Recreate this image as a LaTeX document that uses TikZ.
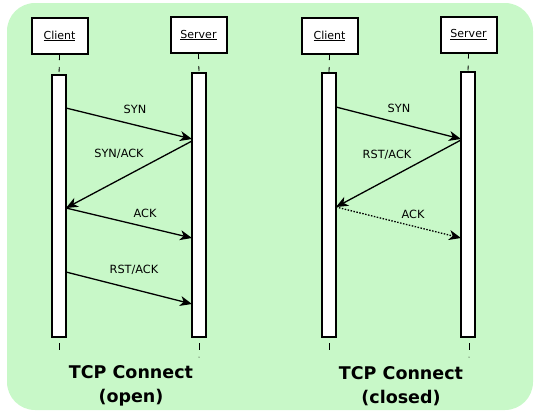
\documentclass[tikz,border=0pt]{standalone}
\usepackage{fontspec}
\setmainfont{DejaVu Sans}
\usetikzlibrary{arrows.meta}
\definecolor{bggreen}{RGB}{200,248,200}
\tikzset{
  actor/.style={draw=black, line width=2pt, fill=white, minimum width=56pt, minimum height=36pt, inner sep=0pt, font=\fontsize{11}{12}\selectfont},
  bar/.style={draw=black, line width=1.5pt, fill=white},
  msg/.style={line width=1.3pt, -{Stealth[length=12pt,width=10pt,inset=3.5pt]}},
  lbl/.style={font=\fontsize{11.3}{12}\selectfont},
  life/.style={line width=0.8pt, dash pattern=on 5pt off 7pt},
  title/.style={font=\fontsize{17.5}{24}\selectfont\bfseries, align=center}
}
\begin{document}
\begin{tikzpicture}[x=1pt,y=-1pt]
\useasboundingbox (0,0) rectangle (538,416);
\fill[bggreen, rounded corners=28pt] (7,3) rectangle (533,410);
% --- open
\node[actor] (c1) at (59.5,36) {\underline{Client}};
\node[actor] (s1) at (198.5,35) {\underline{Server}};
\draw[bar] (52,75) rectangle (66,337);
\draw[bar] (192,73) rectangle (206,337);
\coordinate (c1t) at (59,75); \coordinate (s1t) at (199,73);
\draw[life] (c1.south) -- (c1t);
\draw[life] (s1.south) -- (s1t);
\draw[line width=0.8pt] (59,343) -- (59,350);
\draw[line width=0.8pt] (199,343) -- (199,350);
\fill (199,357) circle (0.5pt);
\coordinate (a1) at (66,108); \coordinate (b1) at (192,139);
\coordinate (b2) at (192,141); \coordinate (a2) at (66,208);
\coordinate (a3) at (66,208); \coordinate (b3) at (192,238);
\coordinate (a4) at (66,272); \coordinate (b4) at (192,304);
\draw[msg] (a1) -- (b1);
\draw[msg] (b2) -- (a2);
\draw[msg] (a3) -- (b3);
\draw[msg] (a4) -- (b4);
\node[lbl] (l1) at (135,109) {SYN};
\node[lbl] (l2) at (119,154) {SYN/ACK};
\node[lbl] (l3) at (145,213) {ACK};
\node[lbl] (l4) at (134,270) {RST/ACK};
\node[title] (t1) at (131,386) {TCP Connect\\(open)};
% --- closed
\node[actor] (c2) at (329.5,36) {\underline{Client}};
\node[actor] (s2) at (468.5,34.5) {\underline{Server}};
\draw[bar] (322,73) rectangle (336,337);
\draw[bar] (461,72) rectangle (475,337);
\coordinate (c2t) at (329,73); \coordinate (s2t) at (468,72);
\draw[life] (c2.south) -- (c2t);
\draw[life] (s2.south) -- (s2t);
\draw[line width=0.8pt] (329,343) -- (329,350);
\draw[line width=0.8pt] (469,343) -- (469,350);
\fill (469,357) circle (0.5pt);
\coordinate (d1) at (336,107); \coordinate (e1) at (461,139);
\coordinate (e2) at (461,140); \coordinate (d2) at (336,207);
\coordinate (d3) at (336,207); \coordinate (e3) at (461,238);
\draw[msg] (d1) -- (e1);
\draw[msg] (e2) -- (d2);
\draw[msg, dash pattern=on 1.5pt off 1.5pt] (d3) -- (e3);
\node[lbl] (m1) at (399,108) {SYN};
\node[lbl] (m2) at (387,155) {RST/ACK};
\node[lbl] (m3) at (413,214) {ACK};
\node[title] (t2) at (401,386) {TCP Connect\\(closed)};
\end{tikzpicture}
\end{document}
